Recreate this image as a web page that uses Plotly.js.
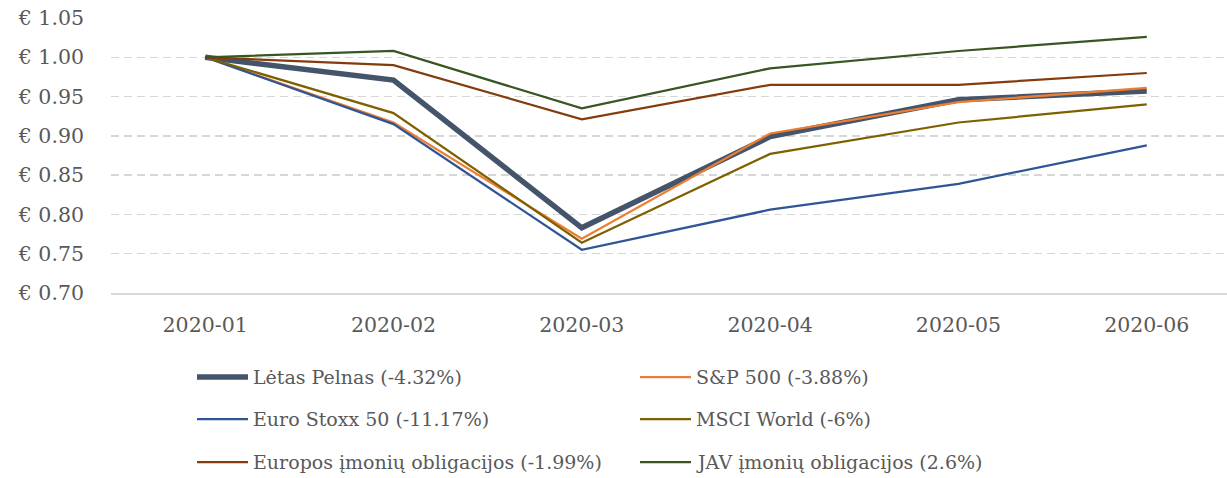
<!DOCTYPE html>
<html>
<head>
<meta charset="utf-8">
<script src="https://cdn.plot.ly/plotly-3.0.1.min.js"></script>
<style>html,body{margin:0;padding:0;background:#fff;}#chart{width:1227px;height:478px;}</style>
</head>
<body>
<div id="chart"></div>
<script>
// ---- data ----
const months = ["2020-01", "2020-02", "2020-03", "2020-04", "2020-05", "2020-06"];
const seriesNames = [
  "Lėtas Pelnas (-4.32%)",
  "S&P 500 (-3.88%)",
  "Euro Stoxx 50 (-11.17%)",
  "MSCI World (-6%)",
  "Europos įmonių obligacijos (-1.99%)",
  "JAV įmonių obligacijos (2.6%)"
];
const letasPelnas = [1.000, 0.971, 0.783, 0.899, 0.946, 0.957];
const sp500       = [1.000, 0.917, 0.769, 0.903, 0.943, 0.961];
const euroStoxx50 = [1.000, 0.915, 0.755, 0.806, 0.839, 0.888];
const msciWorld   = [1.000, 0.929, 0.764, 0.877, 0.917, 0.940];
const europosObl  = [1.000, 0.990, 0.921, 0.965, 0.965, 0.980];
const javObl      = [1.000, 1.008, 0.935, 0.986, 1.008, 1.026];
const yTickVals = [0.70, 0.75, 0.80, 0.85, 0.90, 0.95, 1.00, 1.05];
const yTickText = yTickVals.map(v => "€ " + v.toFixed(2));

// ---- styles ----
const seriesValues = [letasPelnas, sp500, euroStoxx50, msciWorld, europosObl, javObl];
const colors = ["#44546A", "#ED7D31", "#2F5597", "#7F6000", "#843C0C", "#375623"];
const widths = [5.5, 2.25, 2.25, 2.25, 2.25, 2.25];
const FONT = "DejaVu Serif";
const TXT = "#595959";

const W = 1227, H = 478;
const mL = 111, mR = 0, mT = 18, mB = 185;
const plotW = W - mL - mR, plotH = H - mT - mB;

const traces = seriesValues.map((vals, i) => ({
  type: "scatter",
  mode: "lines",
  x: months,
  y: vals,
  name: seriesNames[i],
  line: {color: colors[i], width: widths[i]},
  showlegend: false,
  hoverinfo: "x+y+name"
}));

// custom legend (2 columns x 3 rows) in paper coordinates
const colLineX = [197, 640];
const lineLen = 51;
const rowY = [377, 419, 462];
const shapes = [];
const annotations = [];
seriesNames.forEach((nm, i) => {
  const c = i % 2, r = Math.floor(i / 2);
  const x0 = (colLineX[c] - mL) / plotW;
  const x1 = (colLineX[c] + lineLen - mL) / plotW;
  const yy = (H - mB - rowY[r]) / plotH;
  shapes.push({type: "line", xref: "paper", yref: "paper", x0: x0, x1: x1, y0: yy, y1: yy,
    line: {color: colors[i], width: widths[i]}});
  annotations.push({xref: "paper", yref: "paper", x: (colLineX[c] + lineLen + 3 - mL) / plotW, y: yy,
    xanchor: "left", yanchor: "middle", showarrow: false, text: nm,
    font: {family: FONT, size: 19, color: TXT}});
});

const layout = {
  width: W, height: H,
  margin: {l: mL, r: mR, t: mT, b: mB, pad: 0},
  paper_bgcolor: "#ffffff",
  plot_bgcolor: "#ffffff",
  font: {family: FONT, size: 20, color: TXT},
  showlegend: false,
  xaxis: {
    type: "category",
    categoryorder: "array",
    categoryarray: months,
    range: [-0.5, 5.426],
    showgrid: false,
    zeroline: false,
    showline: true,
    linecolor: "#D9D9D9",
    linewidth: 1.5,
    ticks: "",
    ticklabelstandoff: 13,
    tickfont: {family: FONT, size: 20.5, color: TXT},
    fixedrange: true
  },
  yaxis: {
    range: [0.70, 1.05],
    tickmode: "array",
    tickvals: yTickVals,
    ticktext: yTickText,
    showgrid: true,
    gridcolor: "#D6D6D6",
    gridwidth: 1.5,
    griddash: "8px,5px",
    zeroline: false,
    showline: false,
    ticks: "",
    ticklabelstandoff: 26,
    tickfont: {family: FONT, size: 20.5, color: TXT},
    fixedrange: true
  },
  shapes: shapes,
  annotations: annotations
};

Plotly.newPlot("chart", traces, layout, {displayModeBar: false, staticPlot: true});
</script>
</body>
</html>
